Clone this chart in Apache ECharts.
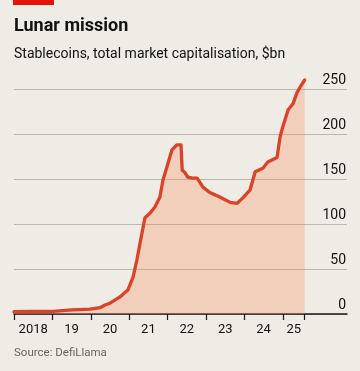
<!DOCTYPE html>
<html>
<head>
<meta charset="utf-8">
<script src="https://cdn.jsdelivr.net/npm/echarts@6/dist/echarts.min.js"></script>
<style>
html,body{margin:0;padding:0;background:#eeece5;}
#c{width:360px;height:371px;}
</style>
</head>
<body>
<div id="c"></div>
<script>
// decimal years
const dates = [2018.00,2018.42,2019.02,2019.50,2019.98,2020.24,2020.37,2020.50,2020.76,2020.97,2021.10,2021.20,2021.28,2021.41,2021.54,2021.67,2021.80,2021.88,2021.98,2022.11,2022.24,2022.35,2022.38,2022.45,2022.53,2022.65,2022.77,2022.92,2023.10,2023.36,2023.63,2023.81,2023.96,2024.15,2024.28,2024.48,2024.61,2024.85,2024.93,2025.00,2025.14,2025.27,2025.37,2025.45,2025.57];
const values = [2.5,2.8,3,4.5,5.5,7,10,12,19,27,41,60,78,107,112,119,130,149,163,182,188,188,160,157,152,151,151,141,135,130,124,123,129,138,158,162,169,174,197,208,227,234,246,252,260];
const yTicks = [0,50,100,150,200,250];
const xTickValues = [2018,2019,2020,2021,2022,2023,2024,2025,2025.57];
const xLabelValues = [2018.5,2019.5,2020.5,2021.5,2022.5,2023.5,2024.5,2025.285];
const xLabels = ['2018','19','20','21','22','23','24','25'];

const chart = echarts.init(document.getElementById('c'), null, {renderer:'canvas'});
const font = 'Roboto';
chart.setOption({
  backgroundColor:'#eeece5',
  animation:false,
  graphic:[
    {type:'rect', shape:{x:13,y:0,width:41,height:5}, style:{fill:'#e3120b'}},
    {type:'text', left:14, top:17, style:{text:'Lunar mission', font:'bold 18px Roboto', fill:'#121212'}},
    {type:'text', left:14, top:47, style:{text:'Stablecoins, total market capitalisation, $bn', font:'14px Roboto', fill:'#121212'}},
    {type:'text', left:14, top:347, style:{text:'Source: DefiLlama', font:'11.5px Roboto', fill:'#666'}}
  ],
  grid:{left:14, right:13, top:89, bottom:57},
  xAxis:{
    type:'value', min:2018, max:2026.672,
    axisLine:{show:true, lineStyle:{color:'#1a1a1a', width:1.5}},
    axisTick:{show:true, customValues:xTickValues, length:6, lineStyle:{color:'#1a1a1a', width:1.2}},
    axisLabel:{customValues:xLabelValues, margin:9, fontFamily:font, fontSize:13, color:'#121212',
      formatter:function(v){const i=xLabelValues.findIndex(x=>Math.abs(x-v)<0.01);return i>=0?xLabels[i]:'';}},
    splitLine:{show:false}
  },
  yAxis:{
    type:'value', min:0, max:250, interval:50, position:'right',
    axisLine:{show:false}, axisTick:{show:false},
    axisLabel:{inside:true, margin:1, verticalAlign:'bottom', padding:[0,0,2,0], fontFamily:font, fontSize:14, color:'#121212'},
    splitLine:{show:true, lineStyle:{color:'#b8b7b0', width:1}}
  },
  series:[{
    type:'line', clip:false, symbol:'none',
    data:dates.map((d,i)=>[d,values[i]]),
    lineStyle:{color:'#d9432a', width:3.3, join:'round', cap:'round'},
    areaStyle:{color:'rgba(250,140,90,0.42)'},
    z:3
  }]
});
</script>
</body>
</html>
